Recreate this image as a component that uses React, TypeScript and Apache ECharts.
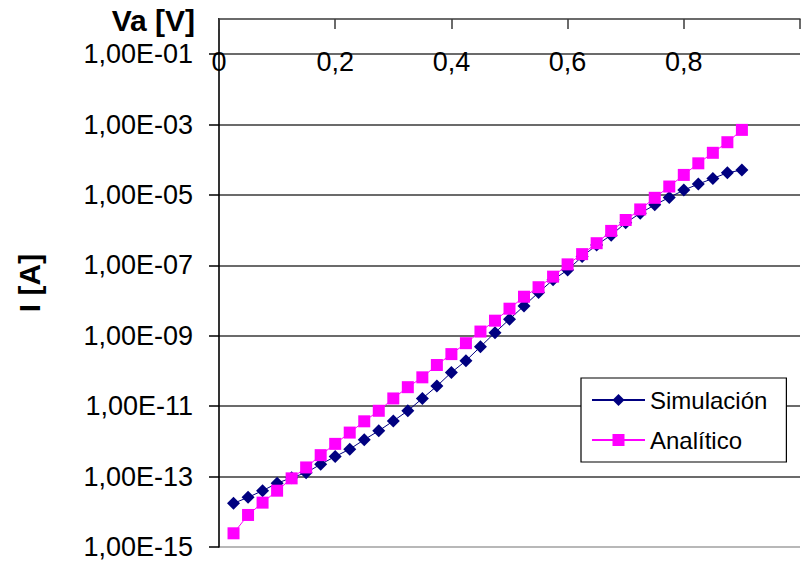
import React, { useEffect, useRef } from "react";
import * as echarts from "echarts";

const voltages = [
  0.025, 0.05, 0.075, 0.1, 0.125, 0.15, 0.175, 0.2, 0.225, 0.25, 0.275, 0.3,
  0.325, 0.35, 0.375, 0.4, 0.425, 0.45, 0.475, 0.5, 0.525, 0.55, 0.575, 0.6,
  0.625, 0.65, 0.675, 0.7, 0.725, 0.75, 0.775, 0.8, 0.825, 0.85, 0.875, 0.9,
];

const simulacion = [
  1.74e-14, 2.57e-14, 3.98e-14, 6.46e-14, 9.33e-14, 1.29e-13, 2.24e-13, 3.72e-13,
  6.03e-13, 1.12e-12, 2.0e-12, 3.8e-12, 7.41e-12, 1.66e-11, 3.72e-11, 9.12e-11,
  1.95e-10, 4.9e-10, 1.23e-9, 2.95e-9, 7.08e-9, 1.7e-8, 3.89e-8, 7.41e-8,
  1.78e-7, 3.8e-7, 7.24e-7, 1.62e-6, 3.02e-6, 5.25e-6, 8.51e-6, 1.38e-5,
  2.04e-5, 2.95e-5, 4.27e-5, 5.13e-5,
];

const analitico = [
  2.45e-15, 8.13e-15, 1.82e-14, 3.98e-14, 8.91e-14, 1.82e-13, 4.07e-13, 8.51e-13,
  1.78e-12, 3.72e-12, 7.41e-12, 1.66e-11, 3.47e-11, 6.61e-11, 1.48e-10, 3.02e-10,
  6.17e-10, 1.32e-9, 2.69e-9, 5.89e-9, 1.29e-8, 2.4e-8, 4.79e-8, 1.07e-7,
  2.09e-7, 4.27e-7, 9.55e-7, 1.95e-6, 3.89e-6, 8.32e-6, 1.74e-5, 3.72e-5,
  7.94e-5, 1.58e-4, 3.16e-4, 7.08e-4,
];

const xTickLabels = ["0", "0,2", "0,4", "0,6", "0,8"];
const yTickLabels = [
  "1,00E-15", "1,00E-13", "1,00E-11", "1,00E-09",
  "1,00E-07", "1,00E-05", "1,00E-03", "1,00E-01",
];
const seriesNames = ["Simulación", "Analítico"];

const FONT = "'Liberation Sans', Arial, sans-serif";

export default function App() {
  const ref = useRef<HTMLDivElement>(null);
  useEffect(() => {
    if (!ref.current) return;
    const chart = echarts.init(ref.current, null, { renderer: "svg" });
    const simData = voltages.map((v, i) => [v, simulacion[i]]);
    const anaData = voltages.map((v, i) => [v, analitico[i]]);
    chart.setOption({
      animation: false,
      backgroundColor: "#ffffff",
      grid: { left: 219, top: 19, right: -8, bottom: 16, containLabel: false },
      xAxis: {
        type: "value",
        position: "top",
        min: 0,
        max: 1,
        interval: 0.2,
        z: 5,
        axisLine: { show: true, onZero: false, lineStyle: { color: "#3a3a3a", width: 1.6 } },
        axisTick: { show: true, inside: true, length: 10, lineStyle: { color: "#3a3a3a", width: 1.5 } },
        axisLabel: {
          inside: true,
          margin: 29,
          fontSize: 27,
          fontFamily: FONT,
          color: "#000",
          formatter: (v: number) => {
            const idx = Math.round(v / 0.2);
            return Math.abs(idx * 0.2 - v) < 1e-6 && xTickLabels[idx] !== undefined ? xTickLabels[idx] : "";
          },
        },
        splitLine: { show: false },
      },
      yAxis: [
        {
          type: "log",
          logBase: 10,
          min: 1e-15,
          max: 1,
          position: "left",
          axisLine: { show: false, onZero: false },
          axisTick: { show: false },
          axisLabel: { show: false },
          splitLine: { show: false },
        },
        {
          type: "value",
          position: "left",
          min: 0,
          max: 15,
          interval: 2,
          axisLine: { show: true, onZero: false, lineStyle: { color: "#000", width: 1.6 } },
          axisTick: { show: true, length: 10, lineStyle: { color: "#000", width: 1.5 } },
          axisLabel: {
            margin: 26,
            fontSize: 27,
            fontFamily: FONT,
            color: "#000",
            formatter: (v: number) => {
              const idx = v / 2;
              return Number.isInteger(idx) && yTickLabels[idx] !== undefined ? yTickLabels[idx] : "";
            },
          },
          splitLine: {
            show: true,
            showMaxLine: false,
            lineStyle: {
              color: ["#a0a0a0", "#3a3a3a", "#3a3a3a", "#3a3a3a", "#3a3a3a", "#3a3a3a", "#3a3a3a", "#3a3a3a", "#3a3a3a"],
              width: 1.6,
            },
          },
        },
      ],
      legend: {
        show: true,
        orient: "vertical",
        left: 581,
        top: 378,
        padding: [9, 19, 9, 10],
        itemGap: 14,
        itemWidth: 53,
        itemHeight: 15,
        backgroundColor: "#ffffff",
        borderColor: "#000",
        borderWidth: 1.2,
        borderRadius: 0,
        textStyle: { fontSize: 24, fontFamily: FONT, color: "#000", lineHeight: 26 },
        data: seriesNames,
      },
      graphic: [
        {
          type: "rect",
          z: 100,
          shape: { x: 204, y: 15, width: 14, height: 8 },
          style: { fill: "#ffffff" },
        },
        {
          type: "text",
          x: 195,
          y: 20,
          style: {
            text: "Va [V]",
            fontSize: 30,
            fontWeight: "bold",
            fontFamily: FONT,
            fill: "#000",
            align: "right",
            verticalAlign: "middle",
          },
        },
        {
          type: "text",
          x: 29,
          y: 283,
          rotation: Math.PI / 2,
          style: {
            text: "I [A]",
            fontSize: 30,
            fontWeight: "bold",
            fontFamily: FONT,
            fill: "#000",
            align: "center",
            verticalAlign: "middle",
          },
        },
      ],
      series: [
        {
          name: seriesNames[0],
          type: "line",
          yAxisIndex: 0,
          data: simData,
          symbol: "diamond",
          symbolSize: 13,
          itemStyle: { color: "#000080" },
          lineStyle: { color: "#000080", width: 1 },
          z: 2,
        },
        {
          name: seriesNames[1],
          type: "line",
          yAxisIndex: 0,
          data: anaData,
          symbol: "rect",
          symbolSize: 12,
          itemStyle: { color: "#ff00ff" },
          lineStyle: { color: "#ff00ff", width: 1 },
          z: 3,
        },
      ],
    });
    return () => chart.dispose();
  }, []);
  return (
    <div
      ref={ref}
      style={{ position: "fixed", left: 0, top: 0, width: 803, height: 563, background: "#fff" }}
    />
  );
}
